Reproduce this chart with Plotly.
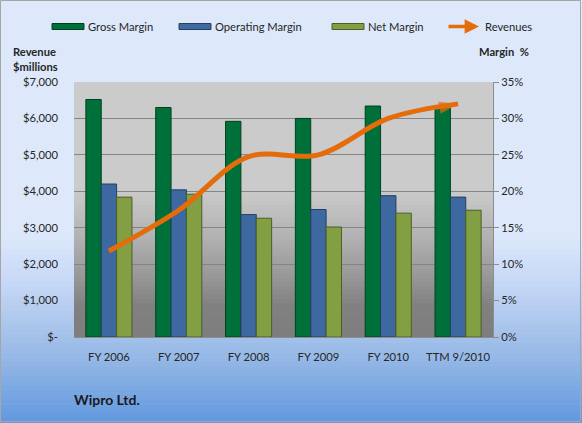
import plotly.graph_objects as go

# data
periods = ['FY 2006', 'FY 2007', 'FY 2008', 'FY 2009', 'FY 2010', 'TTM 9/2010']
gross_margin = [32.6, 31.5, 29.6, 30.0, 31.7, 31.4]      # %
operating_margin = [21.0, 20.2, 16.8, 17.5, 19.4, 19.2]  # %
net_margin = [19.2, 19.6, 16.3, 15.1, 17.0, 17.4]        # %
revenues = [2360, 3480, 4950, 5000, 6000, 6400]          # $ millions

rev_ticks = [0, 1000, 2000, 3000, 4000, 5000, 6000, 7000]
rev_ticktext = ['$-', '$1,000', '$2,000', '$3,000', '$4,000', '$5,000', '$6,000', '$7,000']
pct_ticks = [0, 5, 10, 15, 20, 25, 30, 35]
pct_ticktext = ['0%', '5%', '10%', '15%', '20%', '25%', '30%', '35%']

W, H = 582, 423
ML, MR, MT, MB = 74, 89, 82, 86
PW, PH = W - ML - MR, H - MT - MB

FONT = 'Lato, Open Sans, sans-serif'
TXT = '#262626'
FS = 11.2

bar_styles = [
    ('Gross Margin', gross_margin, '#00703A', '#00401F'),
    ('Operating Margin', operating_margin, '#3D68A0', '#24405F'),
    ('Net Margin', net_margin, '#82A043', '#4B5E26'),
]


def px_x(x):
    return (x - ML) / PW


def px_y(y):
    return (H - MB - y) / PH


def lerp(stops, t):
    # stops: list of (pos, (r, g, b))
    for (p0, c0), (p1, c1) in zip(stops, stops[1:]):
        if t <= p1:
            k = 0 if p1 == p0 else (t - p0) / (p1 - p0)
            k = min(max(k, 0), 1)
            return tuple(round(a + (b - a) * k) for a, b in zip(c0, c1))
    return stops[-1][1]


fig = go.Figure()

for name, vals, col, edge in bar_styles:
    fig.add_trace(go.Bar(
        x=periods, y=vals, name=name,
        marker=dict(color=col, line=dict(color=edge, width=1)),
        yaxis='y', showlegend=False,
        hovertemplate=name + ': %{y:.1f}%<extra></extra>'
    ))

n = len(revenues)
fig.add_trace(go.Scatter(
    x=periods, y=revenues, name='Revenues', yaxis='y2',
    mode='lines+markers',
    line=dict(color='#E46C0A', width=5, shape='spline', smoothing=1),
    marker=dict(symbol=['circle'] * (n - 1) + ['arrow'],
                size=[0] * (n - 1) + [20],
                angleref='previous', color='#E46C0A',
                line=dict(width=0)),
    showlegend=False,
    hovertemplate='Revenues: $%{y:,.0f}<extra></extra>'
))

shapes = []

# figure background gradient (light blue to blue)
paper_stops = [(0.0, (221, 233, 251)), (0.55, (221, 233, 251)), (0.66, (200, 217, 247)),
               (0.78, (168, 196, 235)), (0.875, (140, 178, 228)), (1.0, (96, 152, 224))]
steps = 90
for i in range(steps):
    y0 = H * i / steps
    y1 = H * (i + 1) / steps + 0.6
    r, g, b = lerp(paper_stops, (i + 0.5) / steps)
    shapes.append(dict(type='rect', xref='paper', yref='paper', layer='below',
                       x0=px_x(0), x1=px_x(W), y0=px_y(y1), y1=px_y(y0),
                       fillcolor=f'rgb({r},{g},{b})', line=dict(width=0)))

# plot area gradient (light gray to dark gray)
plot_stops = [(0.0, (203, 203, 203)), (0.42, (203, 203, 203)), (0.62, (176, 176, 176)),
              (0.78, (148, 148, 148)), (0.88, (128, 128, 128)), (1.0, (126, 126, 126))]
steps = 60
for i in range(steps):
    r, g, b = lerp(plot_stops, (i + 0.5) / steps)
    shapes.append(dict(type='rect', xref='paper', yref='paper', layer='below',
                       x0=0, x1=1, y0=1 - (i + 1) / steps - 0.003, y1=1 - i / steps,
                       fillcolor=f'rgb({r},{g},{b})', line=dict(width=0)))

# outer frame
shapes.append(dict(type='rect', xref='paper', yref='paper', layer='above',
                   x0=px_x(0.5), x1=px_x(W - 1.5), y0=px_y(H - 1.5), y1=px_y(0.5),
                   line=dict(color='#A6A6A6', width=1), fillcolor='rgba(0,0,0,0)'))

# custom legend: wide swatches like the original
legend_y = 26.5
swatch_x = [52, 179, 332]
for (name, vals, col, edge), sx in zip(bar_styles, swatch_x):
    shapes.append(dict(type='rect', xref='paper', yref='paper', layer='above',
                       x0=px_x(sx), x1=px_x(sx + 32),
                       y0=px_y(legend_y + 3), y1=px_y(legend_y - 3),
                       fillcolor=col, line=dict(color=edge, width=1)))

annotations = []
for (name, vals, col, edge), sx in zip(bar_styles, swatch_x):
    annotations.append(dict(xref='paper', yref='paper', x=px_x(sx + 34), y=px_y(legend_y),
                            text=name, showarrow=False, xanchor='left', yanchor='middle',
                            font=dict(size=FS, color=TXT, family=FONT)))

# revenue legend arrow
annotations.append(dict(xref='paper', yref='paper', x=px_x(479), y=px_y(legend_y),
                        ax=-32, ay=0, axref='pixel', ayref='pixel', text='',
                        showarrow=True, arrowhead=2, arrowsize=0.8, arrowwidth=3.6,
                        arrowcolor='#E46C0A', standoff=0))
annotations.append(dict(xref='paper', yref='paper', x=px_x(483), y=px_y(legend_y),
                        text='Revenues', showarrow=False, xanchor='left', yanchor='middle',
                        font=dict(size=FS, color=TXT, family=FONT)))

# axis titles and footer
annotations.append(dict(xref='paper', yref='paper', x=px_x(11), y=px_y(43),
                        text='<b>Revenue<br>$millions</b>', showarrow=False,
                        xanchor='left', yanchor='top', align='left',
                        font=dict(size=FS, color=TXT, family=FONT)))
annotations.append(dict(xref='paper', yref='paper', x=px_x(531), y=px_y(51),
                        text='<b>Margin  %</b>', showarrow=False,
                        xanchor='right', yanchor='middle',
                        font=dict(size=FS, color=TXT, family=FONT)))
annotations.append(dict(xref='paper', yref='paper', x=px_x(72), y=px_y(399),
                        text='<b>Wipro Ltd.</b>', showarrow=False,
                        xanchor='left', yanchor='middle',
                        font=dict(size=14, color='#1a1a1a', family=FONT)))

fig.update_layout(
    width=W, height=H,
    margin=dict(l=ML, r=MR, t=MT, b=MB),
    paper_bgcolor='#DDE9FB',
    plot_bgcolor='rgba(0,0,0,0)',
    font=dict(family=FONT, size=FS, color=TXT),
    barmode='group', bargap=0.34, bargroupgap=0,
    showlegend=False,
    xaxis=dict(showgrid=False, showline=True, linecolor='#8C8C8C', linewidth=1,
               ticks='', ticklabelstandoff=10, tickfont=dict(size=FS, color=TXT)),
    yaxis=dict(side='right', range=[0, 35], tickvals=pct_ticks, ticktext=pct_ticktext,
               showgrid=True, gridcolor='#858585', gridwidth=1, zeroline=False,
               showline=True, linecolor='#8C8C8C', ticks='outside', ticklen=5,
               tickcolor='#8C8C8C', tickfont=dict(size=FS, color=TXT)),
    yaxis2=dict(side='left', overlaying='y', range=[0, 7000], tickvals=rev_ticks,
                ticktext=rev_ticktext, showgrid=False, zeroline=False, showline=False,
                ticks='', ticklabelstandoff=15, tickfont=dict(size=FS, color=TXT)),
    shapes=shapes,
    annotations=annotations,
)

# page body has an 8px default margin; drop it so the figure sits at 0,0
fig.write_html('out.html', config={'displayModeBar': False},
               post_script="document.body.style.margin='0';")
